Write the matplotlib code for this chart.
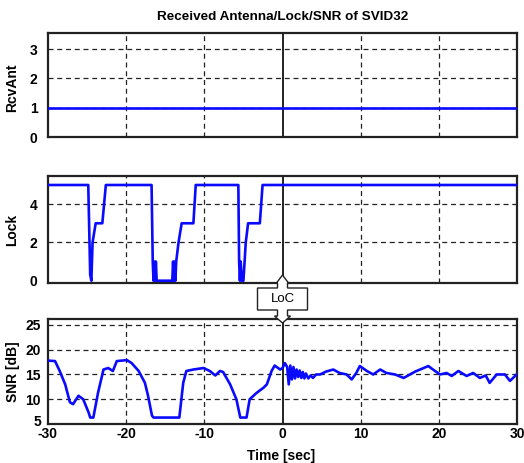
import matplotlib
matplotlib.use("Agg")
import matplotlib.pyplot as plt
from matplotlib.patches import Polygon
from matplotlib.transforms import ScaledTranslation
import numpy as np

plt.rcParams['font.family'] = ['Liberation Sans', 'DejaVu Sans']
plt.rcParams['axes.unicode_minus'] = False

# ---------------- data ----------------
title = "Received Antenna/Lock/SNR of SVID32"
xticks = [-30, -20, -10, 0, 10, 20, 30]

rcv_t = [-30, 30]
rcv_v = [1, 1]

lock_t = [-30, -24.85, -24.6, -24.45, -24.3, -24.1, -23.9, -23.05, -22.6,
          -16.75, -16.6, -16.5, -16.4, -16.3, -16.2, -16.1, -14.1,
          -14.0, -13.9, -13.8, -13.7, -13.6, -13.3, -12.9, -11.4, -11.1,
          -5.65, -5.55, -5.45, -5.35, -5.2, -5.0, -4.7, -4.4, -2.9, -2.55, 30]
lock_v = [5, 5, 0.3, 0, 2, 2.5, 3, 3, 5,
          5, 1, 0, 1, 0, 1, 0, 0,
          1, 0, 1, 0, 1, 2, 3, 3, 5,
          5, 1, 0, 1, 0, 0, 2, 3, 3, 5, 5]

snr_t = [-30, -29.1, -28.5, -27.8, -27.2, -26.8, -26.1, -25.5, -24.8, -24.6,
         -24.2, -23.6, -22.9, -22.3, -21.7, -21.2, -19.9, -19.3, -18.4, -17.6,
         -17.2, -16.7, -16.5, -13.2, -12.7, -12.3, -11.4, -10.1, -9.3, -8.6,
         -8.0, -7.6, -6.7, -5.9, -5.4, -4.6, -4.2, -3.3, -2.45, -2.0,
         -1.4, -1.0, -0.3, 0.0, 0.3, 0.6, 0.8, 1.0, 1.2, 1.4,
         1.6, 1.8, 2.0, 2.2, 2.4, 2.6, 2.8, 3.0, 3.3, 3.6,
         3.9, 4.3, 4.8, 5.6, 6.5, 7.3, 8.2, 8.85, 9.4, 9.9,
         10.8, 11.6, 12.5, 13.3, 14.4, 15.5, 16.3, 17.0, 17.6, 18.65,
         19.25, 20.15, 21.0, 21.65, 22.5, 23.55, 24.4, 25.25, 26.0, 26.5,
         27.4, 28.45, 29.1, 29.95]
snr_v = [17.8, 17.7, 15.7, 13.0, 9.4, 9.0, 10.7, 10.0, 7.3, 6.3,
         6.3, 11.3, 16.0, 16.3, 15.7, 17.7, 17.9, 17.3, 15.7, 13.3,
         10.7, 6.7, 6.3, 6.3, 13.3, 15.7, 16.0, 16.3, 15.7, 14.8,
         15.7, 15.5, 13.0, 10.0, 6.3, 6.3, 10.0, 11.3, 12.3, 13.0,
         15.7, 16.8, 16.0, 16.3, 17.3, 16.5, 13.0, 16.8, 14.0, 16.5,
         14.2, 16.0, 14.5, 15.8, 14.3, 15.5, 14.2, 15.2, 14.2, 14.8,
         14.3, 15.0, 15.0, 15.6, 16.0, 15.3, 15.0, 14.0, 15.2, 16.7,
         15.7, 15.0, 16.0, 15.3, 15.0, 14.3, 15.0, 15.6, 16.0, 16.7,
         16.0, 15.0, 15.3, 14.7, 15.7, 14.7, 15.3, 14.3, 14.8, 13.3,
         15.0, 15.0, 13.7, 15.0]

# ---------------- figure ----------------
W, H = 524, 463
fig = plt.figure(figsize=(W / 100, H / 100), dpi=100)

def fpos(x0, y0, x1, y1):
    return [x0 / W, 1 - y1 / H, (x1 - x0) / W, (y1 - y0) / H]

ax1 = fig.add_axes(fpos(48, 33, 517, 137))
ax2 = fig.add_axes(fpos(48, 176, 517, 283))
ax3 = fig.add_axes(fpos(48, 319, 517, 424))

blue = '#0a0aff'
lw = 1.9
ax1.plot(rcv_t, rcv_v, color=blue, lw=lw, zorder=5)
ax2.plot(lock_t, lock_v, color=blue, lw=lw, zorder=5)
ax3.plot(snr_t, snr_v, color=blue, lw=lw, zorder=5)

ax1.set_ylim(0, 3.55)
ax1.set_yticks([0, 1, 2, 3])
ax2.set_ylim(-0.12, 5.47)
ax2.set_yticks([0, 2, 4])
ax3.set_ylim(5, 26.2)
ax3.set_yticks([5, 10, 15, 20, 25])

for ax in (ax1, ax2, ax3):
    ax.set_xlim(-30, 30)
    ax.set_xticks(xticks)
    for x in xticks[1:-1]:
        if x == 0:
            ax.axvline(0, color='#222222', lw=1.4, zorder=3)
        else:
            ax.axvline(x, color='#222222', lw=0.9, ls=(0, (4, 3)), zorder=2)
    for y in ax.get_yticks()[1:]:
        ax.axhline(y, color='#222222', lw=0.9, ls=(0, (4, 3)), zorder=2)
    for s in ax.spines.values():
        s.set_linewidth(1.6)
        s.set_color('#222222')
    ax.tick_params(length=0, labelsize=10, pad=7.5)
    for lbl in ax.get_yticklabels():
        lbl.set_fontweight('bold')

ax1.set_xticklabels([])
ax2.set_xticklabels([])
ax3.tick_params(axis='y', pad=5)
ax3.tick_params(axis='x', pad=2.5)
for lbl in ax3.get_xticklabels():
    lbl.set_fontweight('bold')
# nudge the lowest SNR tick label up slightly so it clears the "-30"
first = ax3.get_yticklabels()[0]
first.set_transform(first.get_transform() +
                    ScaledTranslation(0, 3 / 100, fig.dpi_scale_trans))

fig.text(282.5 / W, 1 - 17 / H, title, ha='center', va='center',
         fontsize=9.7, fontweight='bold')
fig.text(12.5 / W, 1 - 88 / H, 'RcvAnt', rotation=90, ha='center', va='center',
         fontsize=10, fontweight='bold')
fig.text(12.5 / W, 1 - 230 / H, 'Lock', rotation=90, ha='center', va='center',
         fontsize=10, fontweight='bold')
fig.text(12.5 / W, 1 - 371.5 / H, 'SNR [dB]', rotation=90, ha='center', va='center',
         fontsize=10, fontweight='bold')
fig.text(281 / W, 1 - 456 / H, 'Time [sec]', ha='center', va='center',
         fontsize=10, fontweight='bold')

# LoC callout at x = 0
cx = fig.transFigure.inverted().transform(ax3.transData.transform((0, 10)))[0] * W
pts = [(cx - 25, 288), (cx - 5, 288), (cx - 5, 283), (cx - 6, 283), (cx, 275),
       (cx + 6, 283), (cx + 5, 283), (cx + 5, 288), (cx + 25, 288), (cx + 25, 310),
       (cx + 5, 310), (cx + 5, 316), (cx + 8, 316), (cx, 323), (cx - 8, 316),
       (cx - 5, 316), (cx - 5, 310), (cx - 25, 310)]
poly = Polygon([(x / W, 1 - y / H) for x, y in pts], closed=True,
               transform=fig.transFigure, facecolor='white',
               edgecolor='#222222', lw=1.0, zorder=20)
fig.add_artist(poly)
fig.text(cx / W, 1 - 299 / H, 'LoC', ha='center', va='center', fontsize=9.5,
         zorder=21)

fig.savefig('out.png', dpi=100)
